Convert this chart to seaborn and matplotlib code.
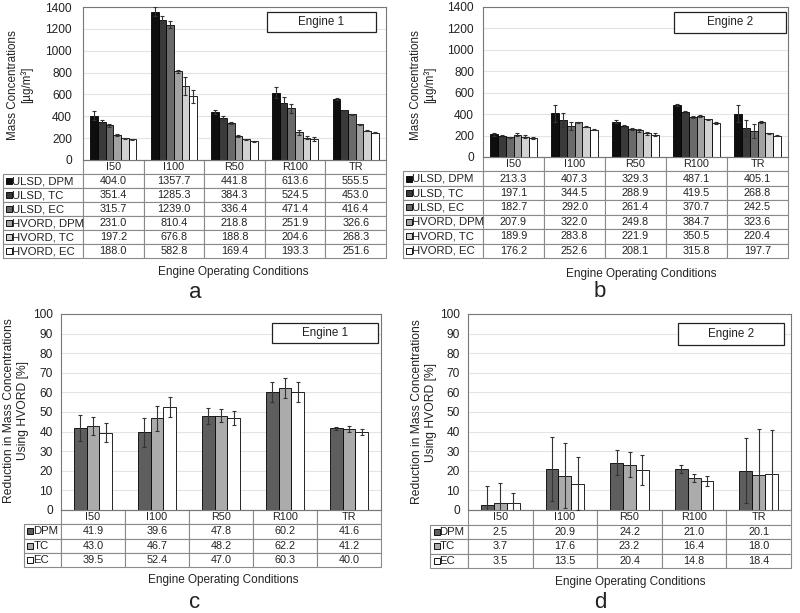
import numpy as np
import pandas as pd
import matplotlib
matplotlib.use('Agg')
import matplotlib.pyplot as plt
from matplotlib.patches import Rectangle
import seaborn as sns

# ---------------- data ----------------
conditions = ['I50', 'I100', 'R50', 'R100', 'TR']
mass_series = ['ULSD, DPM', 'ULSD, TC', 'ULSD, EC', 'HVORD, DPM', 'HVORD, TC', 'HVORD, EC']
red_series = ['DPM', 'TC', 'EC']

# Engine 1 mass concentrations (panel a)
e1_ulsd_dpm = [404.0, 1357.7, 441.8, 613.6, 555.5]
e1_ulsd_tc = [351.4, 1285.3, 384.3, 524.5, 453.0]
e1_ulsd_ec = [315.7, 1239.0, 336.4, 471.4, 416.4]
e1_hvord_dpm = [231.0, 810.4, 218.8, 251.9, 326.6]
e1_hvord_tc = [197.2, 676.8, 188.8, 204.6, 268.3]
e1_hvord_ec = [188.0, 582.8, 169.4, 193.3, 251.6]
e1_err_ulsd_dpm = [40, 40, 20, 50, 8]
e1_err_ulsd_tc = [15, 35, 20, 55, 5]
e1_err_ulsd_ec = [12, 35, 10, 45, 5]
e1_err_hvord_dpm = [10, 15, 10, 25, 5]
e1_err_hvord_tc = [8, 85, 5, 15, 5]
e1_err_hvord_ec = [5, 60, 5, 15, 5]

# Engine 2 mass concentrations (panel b)
e2_ulsd_dpm = [213.3, 407.3, 329.3, 487.1, 405.1]
e2_ulsd_tc = [197.1, 344.5, 288.9, 419.5, 268.8]
e2_ulsd_ec = [182.7, 292.0, 261.4, 370.7, 242.5]
e2_hvord_dpm = [207.9, 322.0, 249.8, 384.7, 323.6]
e2_hvord_tc = [189.9, 283.8, 221.9, 350.5, 220.4]
e2_hvord_ec = [176.2, 252.6, 208.1, 315.8, 197.7]
e2_err_ulsd_dpm = [15, 80, 15, 8, 80]
e2_err_ulsd_tc = [8, 67, 10, 8, 75]
e2_err_ulsd_ec = [8, 38, 10, 8, 65]
e2_err_hvord_dpm = [12, 8, 15, 8, 10]
e2_err_hvord_tc = [15, 8, 15, 8, 5]
e2_err_hvord_ec = [10, 5, 15, 8, 5]

# Engine 1 reduction (panel c)
e1_red_dpm = [41.9, 39.6, 47.8, 60.2, 41.6]
e1_red_tc = [43.0, 46.7, 48.2, 62.2, 41.2]
e1_red_ec = [39.5, 52.4, 47.0, 60.3, 40.0]
e1_rerr_dpm = [6.5, 7.5, 4.0, 5.0, 1.0]
e1_rerr_tc = [4.5, 6.5, 3.5, 5.0, 1.5]
e1_rerr_ec = [5.0, 5.0, 3.5, 5.0, 1.5]

# Engine 2 reduction (panel d)
e2_red_dpm = [2.5, 20.9, 24.2, 21.0, 20.1]
e2_red_tc = [3.7, 17.6, 23.2, 16.4, 18.0]
e2_red_ec = [3.5, 13.5, 20.4, 14.8, 18.4]
e2_rerr_dpm = [9.5, 16.5, 6.5, 2.0, 16.5]
e2_rerr_tc = [10.0, 16.5, 6.5, 2.0, 23.5]
e2_rerr_ec = [5.0, 13.5, 7.5, 2.5, 22.5]

mass_colors = ['#0e0e0e', '#3a3a3a', '#6a6a6a', '#a2a2a2', '#d2d2d2', '#ffffff']
red_colors = ['#5e5e5e', '#ababab', '#ffffff']

# ---------------- style ----------------
sns.set_theme(style='white')
plt.rcParams['font.family'] = ['Liberation Sans', 'DejaVu Sans']
TXT = '#222222'

W, H = 800, 613
fig = plt.figure(figsize=(8, 6.13), dpi=100)


def px_axes(x0, y0, x1, y1):
    return fig.add_axes([x0 / W, 1 - y1 / H, (x1 - x0) / W, (y1 - y0) / H])


def panel(ax, series_names, series_vals, series_errs, colors, width, ymax, ystep, pad):
    rows = []
    for name, vals in zip(series_names, series_vals):
        for cnd, v in zip(conditions, vals):
            rows.append({'condition': cnd, 'series': name, 'value': v})
    df = pd.DataFrame(rows)
    sns.barplot(data=df, x='condition', y='value', hue='series', order=conditions,
                hue_order=series_names, palette=colors, width=width, errorbar=None,
                edgecolor='black', linewidth=0.6, legend=False, ax=ax, saturation=1)
    for cont, errs in zip(ax.containers, series_errs):
        xs = [b.get_x() + b.get_width() / 2 for b in cont]
        hs = [b.get_height() for b in cont]
        ax.errorbar(xs, hs, yerr=errs, fmt='none', ecolor='#333333', elinewidth=0.8,
                    capsize=1.5, capthick=0.8, zorder=5)
    ax.set_ylim(0, ymax)
    ax.set_yticks(np.arange(0, ymax + 1, ystep))
    ax.set_xlim(-0.5, 4.5)
    ax.set_xlabel('')
    ax.set_ylabel('')
    ax.tick_params(axis='x', length=0, labelbottom=False)
    ax.tick_params(axis='y', length=0, labelsize=8.6, colors=TXT, pad=pad)
    ax.yaxis.grid(True, color='#e4e4e4', lw=0.8)
    ax.set_axisbelow(True)
    for s in ax.spines.values():
        s.set_visible(True)
        s.set_color('#777777')
        s.set_linewidth(0.8)


def table(ax, labels, colors, values, label_px, table_px, ax_w, ax_h, sw_off, txt_off):
    lf = label_px / ax_w
    hf = table_px / ax_h
    cell_text = [[''] + [f'{v:.1f}' for v in row] for row in values]
    tbl = ax.table(cellText=cell_text, colLabels=[''] + conditions,
                   colWidths=[lf] + [0.2] * 5, bbox=[-lf, -hf, 1 + lf, hf], cellLoc='center')
    tbl.auto_set_font_size(False)
    tbl.set_fontsize(7.8)
    for (r, c), cell in tbl.get_celld().items():
        cell.set_edgecolor('#8a8a8a')
        cell.set_linewidth(0.8)
        cell.get_text().set_color(TXT)
        if r == 0 and c == 0:
            cell.visible_edges = 'open'
    nrows = len(labels) + 1
    rh = hf / nrows
    for i, (lab, col) in enumerate(zip(labels, colors)):
        yc = -(i + 1.5) * rh
        ax.plot([-lf + sw_off / ax_w], [yc], marker='s', ms=4.0, mfc=col, mec='#111111',
                mew=0.7, transform=ax.transAxes, clip_on=False)
        ax.text(-lf + txt_off / ax_w, yc, lab, transform=ax.transAxes, ha='left',
                va='center', fontsize=8.2, color=TXT)


def engine_box(ax, x0, y0, x1, y1, label):
    ax.add_patch(Rectangle((x0, y0), x1 - x0, y1 - y0, transform=ax.transAxes,
                           facecolor='white', edgecolor='#222222', lw=0.9, zorder=6))
    ax.text((x0 + x1) / 2, (y0 + y1) / 2, label, transform=ax.transAxes, ha='center',
            va='center', fontsize=8.4, color=TXT, zorder=7)


# ---------------- panel a ----------------
ax_a = px_axes(83, 7, 386, 160)
panel(ax_a, mass_series,
      [e1_ulsd_dpm, e1_ulsd_tc, e1_ulsd_ec, e1_hvord_dpm, e1_hvord_tc, e1_hvord_ec],
      [e1_err_ulsd_dpm, e1_err_ulsd_tc, e1_err_ulsd_ec, e1_err_hvord_dpm, e1_err_hvord_tc, e1_err_hvord_ec],
      mass_colors, 0.76, 1400, 200, 8)
table(ax_a, mass_series, mass_colors,
      [e1_ulsd_dpm, e1_ulsd_tc, e1_ulsd_ec, e1_hvord_dpm, e1_hvord_tc, e1_hvord_ec],
      80, 98, 303, 153, 5.5, 8.5)
engine_box(ax_a, 0.607, 0.837, 0.967, 0.967, 'Engine 1')

# ---------------- panel b ----------------
ax_b = px_axes(483, 7, 788, 157)
panel(ax_b, mass_series,
      [e2_ulsd_dpm, e2_ulsd_tc, e2_ulsd_ec, e2_hvord_dpm, e2_hvord_tc, e2_hvord_ec],
      [e2_err_ulsd_dpm, e2_err_ulsd_tc, e2_err_ulsd_ec, e2_err_hvord_dpm, e2_err_hvord_tc, e2_err_hvord_ec],
      mass_colors, 0.76, 1400, 200, 6.5)
table(ax_b, mass_series, mass_colors,
      [e2_ulsd_dpm, e2_ulsd_tc, e2_ulsd_ec, e2_hvord_dpm, e2_hvord_tc, e2_hvord_ec],
      80, 101, 305, 150, 5.5, 8.5)
engine_box(ax_b, 0.626, 0.827, 0.993, 0.967, 'Engine 2')

# ---------------- panel c ----------------
ax_c = px_axes(61, 314, 381, 510)
panel(ax_c, red_series, [e1_red_dpm, e1_red_tc, e1_red_ec],
      [e1_rerr_dpm, e1_rerr_tc, e1_rerr_ec], red_colors, 0.6, 100, 10, 6)
table(ax_c, red_series, red_colors, [e1_red_dpm, e1_red_tc, e1_red_ec],
      37, 57, 320, 196, 6.5, 9.5)
engine_box(ax_c, 0.659, 0.852, 0.991, 0.954, 'Engine 1')

# ---------------- panel d ----------------
ax_d = px_axes(468, 314, 791, 510)
panel(ax_d, red_series, [e2_red_dpm, e2_red_tc, e2_red_ec],
      [e2_rerr_dpm, e2_rerr_tc, e2_rerr_ec], red_colors, 0.6, 100, 10, 6)
table(ax_d, red_series, red_colors, [e2_red_dpm, e2_red_tc, e2_red_ec],
      38, 58, 323, 196, 6.5, 9.5)
engine_box(ax_d, 0.650, 0.842, 0.978, 0.954, 'Engine 2')

# ---------------- labels ----------------
def ftext(x, y, s, **kw):
    fig.text(x / W, 1 - y / H, s, color=TXT, **kw)

ftext(20, 85, 'Mass Concentrations\n[µg/m³]', rotation=90, ha='center', va='center',
      fontsize=8.4, linespacing=1.05, multialignment='center')
ftext(423, 85, 'Mass Concentrations\n[µg/m³]', rotation=90, ha='center', va='center',
      fontsize=8.4, linespacing=1.05, multialignment='center')
ftext(16, 411, 'Reduction in Mass Concentrations\nUsing HVORD [%]', rotation=90,
      ha='center', va='center', fontsize=8.7, linespacing=1.15, multialignment='center')
ftext(424, 412, 'Reduction in Mass Concentrations\nUsing HVORD [%]', rotation=90,
      ha='center', va='center', fontsize=8.7, linespacing=1.15, multialignment='center')

ftext(233, 272, 'Engine Operating Conditions', ha='center', va='center', fontsize=8.5)
ftext(641, 274, 'Engine Operating Conditions', ha='center', va='center', fontsize=8.5)
ftext(223, 580, 'Engine Operating Conditions', ha='center', va='center', fontsize=8.5)
ftext(630, 582, 'Engine Operating Conditions', ha='center', va='center', fontsize=8.5)

ftext(195, 293, 'a', ha='center', va='center', fontsize=16)
ftext(600, 292, 'b', ha='center', va='center', fontsize=16)
ftext(195, 603, 'c', ha='center', va='center', fontsize=16)
ftext(600, 603, 'd', ha='center', va='center', fontsize=16)

fig.savefig('out.png', dpi=100, facecolor='white')
